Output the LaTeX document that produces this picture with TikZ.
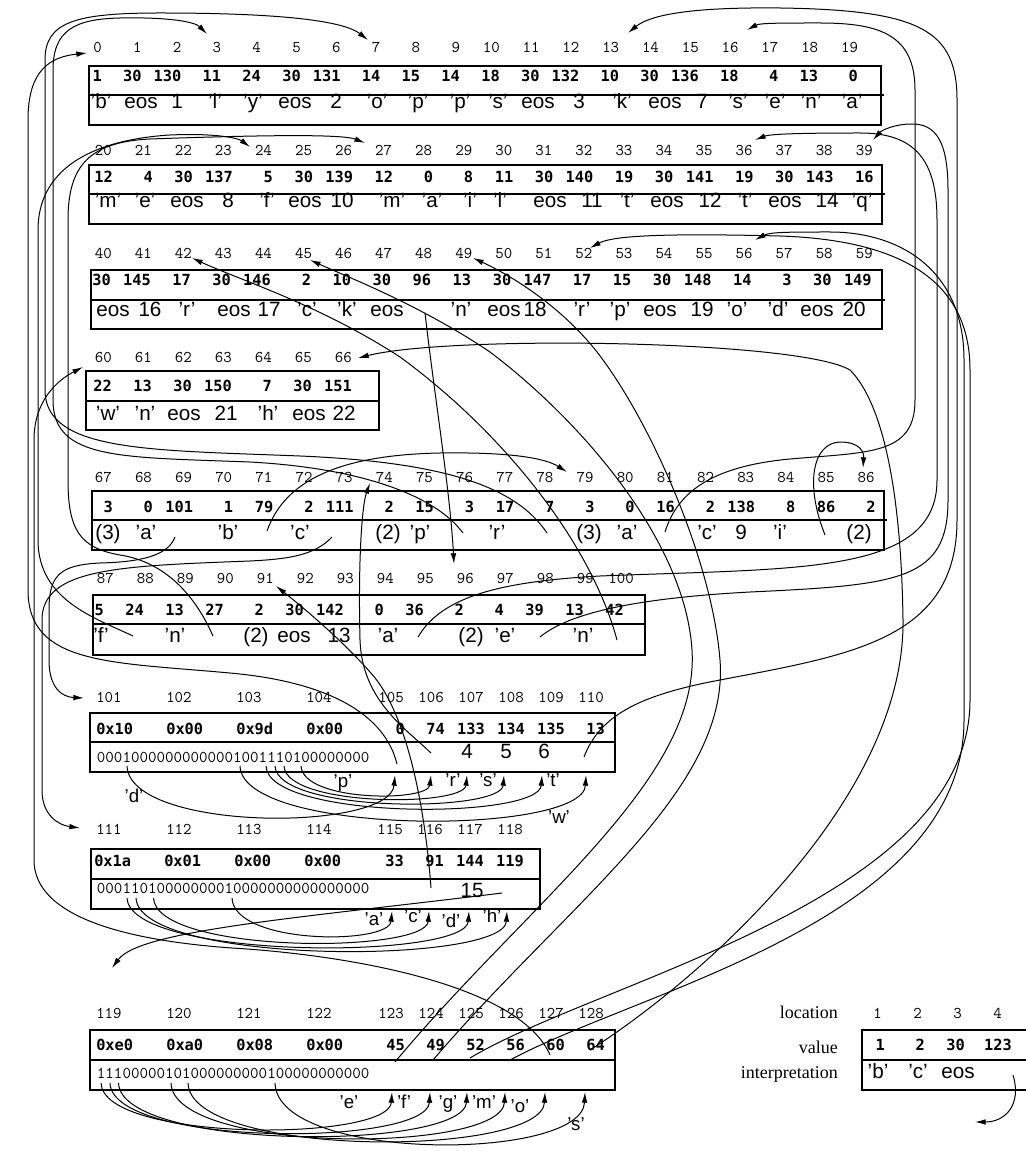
\documentclass[tikz,border=0pt]{standalone}
\usepackage{fontspec}
\setmainfont{Liberation Sans}
\newfontfamily\valfont{DejaVu Sans Mono}
\newfontfamily\legfont{Liberation Serif}
\usetikzlibrary{arrows.meta}
\begin{document}
\begin{tikzpicture}[x=0.75pt,y=-0.75pt,
  lab/.style={font=\ttfamily\fontsize{12.3}{14}\selectfont,inner sep=0pt,anchor=base east},
  labl/.style={lab,anchor=base west},
  val/.style={font=\valfont\bfseries\fontsize{11.5}{13}\selectfont,inner sep=0pt,anchor=base east},
  vall/.style={val,anchor=base west},
  txt/.style={font=\fontsize{15.5}{18}\selectfont,inner sep=0pt,anchor=base},
  sm/.style={font=\fontsize{14}{16}\selectfont,inner sep=0pt,anchor=base},
  bits/.style={font=\ttfamily\fontsize{12.4}{14}\selectfont,inner sep=0pt,anchor=base west},
  leg/.style={font=\legfont\fontsize{13.5}{16}\selectfont,inner sep=0pt,anchor=base east},
  box/.style={draw,line width=0.9pt},
  conn/.style={line width=0.75pt,-{Latex[length=8pt,width=4.2pt]}}
]
\useasboundingbox (0,0) rectangle (1025,1151);

% ---------------- Row 1 (0-19)
\draw[box] (89,66) rectangle (881,125);
\draw[box] (89,95) -- (884,95);
\foreach \v [count=\k from 0] in {1,30,130,11,24,30,131,14,15,14,18,30,132,10,30,136,18,4,13,0}{
  \node[lab] (l\k) at ({102+39.8*\k},53) {\k};
  \node[val] (v\k) at ({102+39.8*\k},82) {\v};
}
\foreach \x/\t [count=\k from 0] in {101/’b’,141/eos,177/1,215/’l’,253/’y’,295/eos,336/2,377/’o’,418/’p’,460/’p’,498/’s’,538/eos,579/3,622/’k’,665/eos,702/7,738/’s’,775/’e’,811/’n’,852/’a’}
  \node[txt] (w\k) at (\x,109) {\t};

% ---------------- Row 2 (20-39)
\draw[box] (89,165) rectangle (882,224);
\draw[box] (89,194) -- (885,194);
\foreach \v [count=\j from 0] in {12,4,30,137,5,30,139,12,0,8,11,30,140,19,30,141,19,30,143,16}{
  \pgfmathtruncatemacro\i{\j+20}
  \node[lab] (l\i) at ({112+40.05*\j},156) {\i};
  \node[val] (v\i) at ({113+40.05*\j},183) {\v};
}
\foreach \x/\t [count=\k from 20] in {108/’m’,145/’e’,187/eos,228/8,267/’f’,305/eos,342/10,392/’m’,432/’a’,470/’i’,500/’l’,550/eos,592/11,627/’t’,667/eos,710/12,745/’t’,785/eos,827/14,862/’q’}
  \node[txt] (w\k) at (\x,208) {\t};

% ---------------- Row 3 (40-59)
\draw[box] (91,270) rectangle (882,329);
\draw[box] (91,300) -- (885,300);
\foreach \v [count=\j from 0] in {30,145,17,30,146,2,10,30,96,13,30,147,17,15,30,148,14,3,30,149}{
  \pgfmathtruncatemacro\i{\j+40}
  \node[lab] (l\i) at ({112+40.05*\j},259) {\i};
  \node[val] (v\i) at ({111+40.05*\j},286) {\v};
}
\foreach \x/\i/\t in {113/40/eos,150/41/16,187/42/’r’,234/43/eos,269/44/17,307/45/’c’,347/46/’k’,387/47/eos,461/49/’n’,504/50/eos,535/51/18,582/52/’r’,620/53/’p’,660/54/eos,702/55/19,737/56/’o’,778/57/’d’,817/58/eos,854/59/20}
  \node[txt] (w\i) at (\x,317) {\t};

% ---------------- Row 4 (60-66)
\draw[box] (86,371) rectangle (379,430);
\draw[box] (86,401) -- (379,401);
\foreach \v [count=\j from 0] in {22,13,30,150,7,30,151}{
  \pgfmathtruncatemacro\i{\j+60}
  \node[lab] (l\i) at ({112+40*\j},363) {\i};
  \node[val] (v\i) at ({112+40*\j},391) {\v};
}
\foreach \x/\t [count=\k from 60] in {108/’w’,145/’n’,184/eos,226/21,268/’h’,309/eos,344/22}
  \node[txt] (w\k) at (\x,420) {\t};

% ---------------- Row 5 (67-86)
\draw[box] (92,491) rectangle (884,550);
\draw[box] (92,520) -- (887,520);
\foreach \v [count=\j from 0] in {3,0,101,1,79,2,111,2,15,3,17,7,3,0,16,2,138,8,86,2}{
  \pgfmathtruncatemacro\i{\j+67}
  \node[lab] (l\i) at ({112+40.15*\j},482) {\i};
  \node[val] (v\i) at ({113+40.15*\j},512) {\v};
}
\foreach \x/\i/\t in {108/67/(3),146/68/’a’,228/70/’b’,300/72/’c’,388/74/(2),420/75/’p’,497/77/’r’,589/79/(3),627/80/’a’,707/82/’c’,741/83/9,780/84/’i’,859/86/(2)}
  \node[txt] (w\i) at (\x,539) {\t};

% ---------------- Row 6 (87-100)
\draw[box] (93,595) rectangle (645,655);
\draw[box] (93,624) -- (645,624);
\foreach \v [count=\j from 0] in {5,24,13,27,2,30,142,0,36,2,4,39,13,42}{
  \pgfmathtruncatemacro\i{\j+87}
  \node[lab] (l\i) at ({114+40*\j},583) {\i};
  \node[val] (v\i) at ({104+40*\j},615) {\v};
}
\foreach \x/\i/\t in {101/87/’f’,175/89/’n’,256/91/(2),294/92/eos,339/93/13,388/94/’a’,471/96/(2),505/97/’e’,583/99/’n’}
  \node[txt] (w\i) at (\x,642) {\t};

% ---------------- Row 7 (101-110)
\draw[box] (90,713) rectangle (615,772);
\draw[box] (90,742) -- (615,742);
\foreach \x/\i/\v in {96/101/0x10,166/102/0x00,236/103/0x9d,306/104/0x00}{
  \node[labl] (l\i) at (\x,702) {\i};
  \node[vall] (v\i) at (\x,734) {\v};
}
\foreach \v [count=\j from 0] in {0,74,133,134,135,13}{
  \pgfmathtruncatemacro\i{\j+105}
  \node[lab] (l\i) at ({404+40*\j},702) {\i};
  \node[val] (v\i) at ({405+40*\j},734) {\v};
}
\node[bits] (bits7) at (96.7,762) {00010000000000001001110100000000};
\node[txt] (w107) at (467,758) {4};
\node[txt] (w108) at (506,758) {5};
\node[txt] (w109) at (544,758) {6};

% ---------------- Row 8 (111-118)
\draw[box] (91,849) rectangle (540,909);
\draw[box] (91,879) -- (540,879);
\foreach \x/\i/\v in {96/111/0x1a,166/112/0x01,236/113/0x00,306/114/0x00}{
  \node[labl] (l\i) at (\x,834) {\i};
  \node[vall] (v\i) at (\x-2,866) {\v};
}
\foreach \v [count=\j from 0] in {33,91,144,119}{
  \pgfmathtruncatemacro\i{\j+115}
  \node[lab] (l\i) at ({403+40*\j},834) {\i};
  \node[val] (v\i) at ({404+40*\j},866) {\v};
}
\node[bits] (bits8) at (96.7,893) {00011010000000010000000000000000};
\node[txt] (w117) at (472,897) {15};

% ---------------- Row 9 (119-128)
\draw[box] (90,1030) rectangle (615,1090);
\draw[box] (90,1060) -- (615,1060);
\foreach \x/\i/\v in {96/119/0xe0,166/120/0xa0,236/121/0x08,306/122/0x00}{
  \node[labl] (l\i) at (\x,1018) {\i};
  \node[vall] (v\i) at (\x,1050) {\v};
}
\foreach \v [count=\j from 0] in {45,49,52,56,60,64}{
  \pgfmathtruncatemacro\i{\j+123}
  \node[lab] (l\i) at ({404+40*\j},1018) {\i};
  \node[val] (v\i) at ({405+40*\j},1050) {\v};
}
\node[bits] (bits9) at (96.7,1078) {11100000101000000000100000000000};

% ---------------- Legend
\node[leg] (loc) at (838,1018) {location};
\node[leg] (valn) at (838,1053) {value};
\node[leg] (intp) at (838,1078) {interpretation};
\draw[box] (1026,1030) -- (862,1030) -- (862,1090) -- (1026,1090);
\draw[box] (862,1060) -- (1026,1060);
\foreach \x/\v [count=\k from 1] in {885/1,925/2,965/30,1012/123}{
  \node[lab] (ll\k) at ({882+40*(\k-1)},1018) {\k};
  \node[val] (lv\k) at (\x,1050) {\v};
}
\node[txt] (lw1) at (878,1078) {’b’};
\node[txt] (lw2) at (918,1078) {’c’};
\node[txt] (lw3) at (958,1078) {eos};

% ---------------- connector end points
\coordinate (t0) at (87,53);   \coordinate (t3) at (207,34);  \coordinate (t7) at (368,40);
\coordinate (t13) at (628,33); \coordinate (t16) at (747,30); \coordinate (t24) at (250,147);
\coordinate (t27) at (365,143);\coordinate (t36) at (755,140);\coordinate (t39) at (873,140);
\coordinate (t42) at (192,258);\coordinate (t45) at (310,260);\coordinate (t49) at (473,258);
\coordinate (t52) at (590,248);\coordinate (t56) at (755,240);\coordinate (t60) at (83,367);
\coordinate (t66) at (358,358);\coordinate (t74) at (370,483);\coordinate (t79) at (567,472);
\coordinate (t86) at (863,468);\coordinate (t91) at (276,586);\coordinate (t96) at (454,564);
\coordinate (t101) at (84,698);\coordinate (t111) at (80,828);\coordinate (t119) at (112,968);

\coordinate (s48) at (425,313); \coordinate (s69) at (175,537); \coordinate (s71) at (267,531);
\coordinate (s73) at (332,537); \coordinate (s76) at (463,533); \coordinate (s78) at (547,533);
\coordinate (s81) at (665,532); \coordinate (s85) at (825,535); \coordinate (s88) at (133,636);
\coordinate (s90) at (213,636); \coordinate (s95) at (418,637); \coordinate (s98) at (540,637);
\coordinate (s100) at (617,640);\coordinate (s105) at (397,764);\coordinate (s106) at (431,753);
\coordinate (s110) at (584,757);\coordinate (s116) at (431,888);\coordinate (s118) at (502,893);
\coordinate (s123) at (395,1062);\coordinate (s124) at (433,1060);\coordinate (s125) at (470,1058);
\coordinate (s126) at (510,1060);\coordinate (s127) at (550,1055);\coordinate (s128) at (590,1050);

% ---------------- pointer connectors
\draw[conn] (s105) .. controls (385,715) and (330,682) .. (230,673) .. controls (110,662) and (28,665) .. (28,590) -- (28,120) .. controls (28,70) and (50,57) .. (t0);
\draw[conn] (s76) .. controls (435,495) and (360,468) .. (250,462) .. controls (120,457) and (53,460) .. (53,400) -- (53,70) .. controls (53,30) and (75,19) .. (120,18) .. controls (170,17) and (195,22) .. (t3);
\draw[conn] (s78) .. controls (515,485) and (440,462) .. (300,456) .. controls (150,450) and (45,452) .. (45,390) -- (45,60) .. controls (45,22) and (75,13) .. (160,13) .. controls (290,13) and (345,22) .. (t7);
\draw[conn] (s110) .. controls (600,715) and (640,695) .. (720,680) .. controls (850,655) and (957,640) .. (957,520) -- (957,100) .. controls (957,30) and (920,10) .. (780,8) .. controls (690,7) and (650,15) .. (t13);
\draw[conn] (s81) .. controls (678,490) and (715,466) .. (790,459) .. controls (870,452) and (915,455) .. (915,400) -- (915,90) .. controls (915,35) and (880,23) .. (820,23) .. controls (780,23) and (760,23) .. (t16);
\draw[conn] (s88) .. controls (95,618) and (38,600) .. (38,540) -- (38,230) .. controls (38,170) and (90,140) .. (170,135) .. controls (215,133) and (238,138) .. (t24);
\draw[conn] (s90) .. controls (195,595) and (165,562) .. (120,555) .. controls (80,548) and (68,530) .. (68,480) -- (68,220) .. controls (68,165) and (90,142) .. (150,139) .. controls (290,134) and (345,135) .. (t27);
\draw[conn] (s95) .. controls (440,600) and (490,582) .. (600,576) .. controls (800,568) and (937,575) .. (937,480) -- (937,220) .. controls (937,160) and (915,133) .. (860,133) .. controls (800,133) and (770,134) .. (t36);
\draw[conn] (s98) .. controls (570,612) and (640,598) .. (750,592) .. controls (900,585) and (948,580) .. (948,500) -- (948,190) .. controls (948,140) and (935,124) .. (912,124) .. controls (895,124) and (882,130) .. (t39);
\draw[conn] (s100) .. controls (590,540) and (500,430) .. (400,357) .. controls (320,305) and (240,280) .. (t42);
\draw[conn] (s123) .. controls (530,900) and (700,780) .. (692,650) .. controls (685,540) and (580,420) .. (490,352) .. controls (420,305) and (350,278) .. (t45);
\draw[conn] (s124) .. controls (570,900) and (730,790) .. (720,660) .. controls (712,560) and (650,420) .. (597,352) .. controls (560,305) and (510,275) .. (t49);
\draw[conn] (s125) .. controls (600,980) and (970,900) .. (970,700) -- (970,370) .. controls (970,280) and (900,240) .. (780,236) .. controls (660,233) and (612,236) .. (t52);
\draw[conn] (s126) .. controls (640,990) and (964,920) .. (964,720) -- (964,360) .. controls (964,270) and (900,232) .. (830,232) .. controls (790,232) and (770,232) .. (t56);
\draw[conn] (s127) .. controls (520,985) and (350,955) .. (232,948) .. controls (120,940) and (34,915) .. (34,860) -- (34,440) .. controls (34,400) and (58,380) .. (t60);
\draw[conn] (s128) .. controls (700,980) and (905,800) .. (903,620) .. controls (901,480) and (880,400) .. (850,370) .. controls (800,340) and (450,335) .. (t66);
\draw[conn] (s106) .. controls (405,728) and (362,700) .. (360,640) .. controls (358,560) and (362,505) .. (t74);
\draw[conn] (s71) .. controls (285,480) and (340,455) .. (440,453) .. controls (510,452) and (545,458) .. (t79);
\draw[conn] (s85) .. controls (805,485) and (812,443) .. (840,442) .. controls (860,442) and (864,452) .. (t86);
\draw[conn] (s116) .. controls (426,820) and (410,715) .. (370,672) .. controls (340,638) and (300,605) .. (t91);
\draw[conn] (s48) .. controls (435,400) and (450,490) .. (t96);
\draw[conn] (s69) .. controls (168,556) and (140,562) .. (100,563) .. controls (60,565) and (49,575) .. (49,610) -- (49,660) .. controls (49,688) and (62,697) .. (t101);
\draw[conn] (s73) .. controls (315,555) and (290,559) .. (250,561) .. controls (120,566) and (42,568) .. (42,620) -- (42,790) .. controls (42,815) and (58,825) .. (t111);
\draw[conn] (s118) .. controls (300,918) and (140,930) .. (t119);

% ---------------- bitmap arcs row 7
\coordinate (a105) at (395,775); \coordinate (a106) at (431,775); \coordinate (a107) at (467,775);
\coordinate (a108) at (504,775); \coordinate (a109) at (542,775); \coordinate (a110) at (586,775);
\draw[conn] (127,766) .. controls (130,832) and (390,832) .. (a105);
\draw[conn] (301,766) .. controls (303,802) and (428,802) .. (a106);
\draw[conn] (284,766) .. controls (286,807) and (464,807) .. (a107);
\draw[conn] (275,766) .. controls (277,813) and (501,813) .. (a108);
\draw[conn] (266,766) .. controls (268,820) and (539,820) .. (a109);
\draw[conn] (240,766) .. controls (242,836) and (583,836) .. (a110);
\node[sm] (cp) at (343,787) {’p’};
\node[sm] (cr) at (453,786) {’r’};
\node[sm] (cs) at (488,786) {’s’};
\node[sm] (ct) at (553,786) {’t’};
\node[sm] (cw) at (559,823) {’w’};
\node[sm] (cd) at (134,802) {’d’};

% ---------------- bitmap arcs row 8
\coordinate (a115) at (392,911); \coordinate (a116) at (429,911);
\coordinate (a117) at (469,911); \coordinate (a118) at (507,911);
\draw[conn] (232,898) .. controls (234,945) and (389,945) .. (a115);
\draw[conn] (153.5,898) .. controls (156,954) and (426,954) .. (a116);
\draw[conn] (127,898) .. controls (130,960) and (466,960) .. (a117);
\draw[conn] (136,898) .. controls (139,965) and (504,965) .. (a118);
\node[sm] (ca) at (374,925) {’a’};
\node[sm] (cc) at (413,922) {’c’};
\node[sm] (cd2) at (451,927) {’d’};
\node[sm] (ch) at (492,922) {’h’};

% ---------------- bitmap arcs row 9
\coordinate (a123) at (392,1092); \coordinate (a124) at (430,1092); \coordinate (a125) at (467,1092);
\coordinate (a126) at (505,1092); \coordinate (a127) at (545,1092); \coordinate (a128) at (585,1092);
\draw[conn] (101,1083) .. controls (103,1142) and (389,1142) .. (a123);
\draw[conn] (110,1083) .. controls (112,1147) and (427,1147) .. (a124);
\draw[conn] (118.5,1083) .. controls (121,1151) and (464,1151) .. (a125);
\draw[conn] (171,1083) .. controls (173,1154) and (502,1154) .. (a126);
\draw[conn] (188,1083) .. controls (190,1158) and (542,1158) .. (a127);
\draw[conn] (275,1083) .. controls (277,1162) and (582,1162) .. (a128);
\node[sm] (ce) at (349,1108) {’e’};
\node[sm] (cf) at (404,1108) {’f’};
\node[sm] (cg) at (448,1108) {’g’};
\node[sm] (cm) at (484,1108) {’m’};
\node[sm] (co) at (520,1112) {’o’};
\node[sm] (cs2) at (576,1130) {’s’};

% ---------------- legend arrow
\coordinate (lsrc) at (1013,1075);
\coordinate (ltip) at (975,1122);
\draw[conn] (lsrc) .. controls (1022,1105) and (1005,1122) .. (ltip);
\end{tikzpicture}
\end{document}
